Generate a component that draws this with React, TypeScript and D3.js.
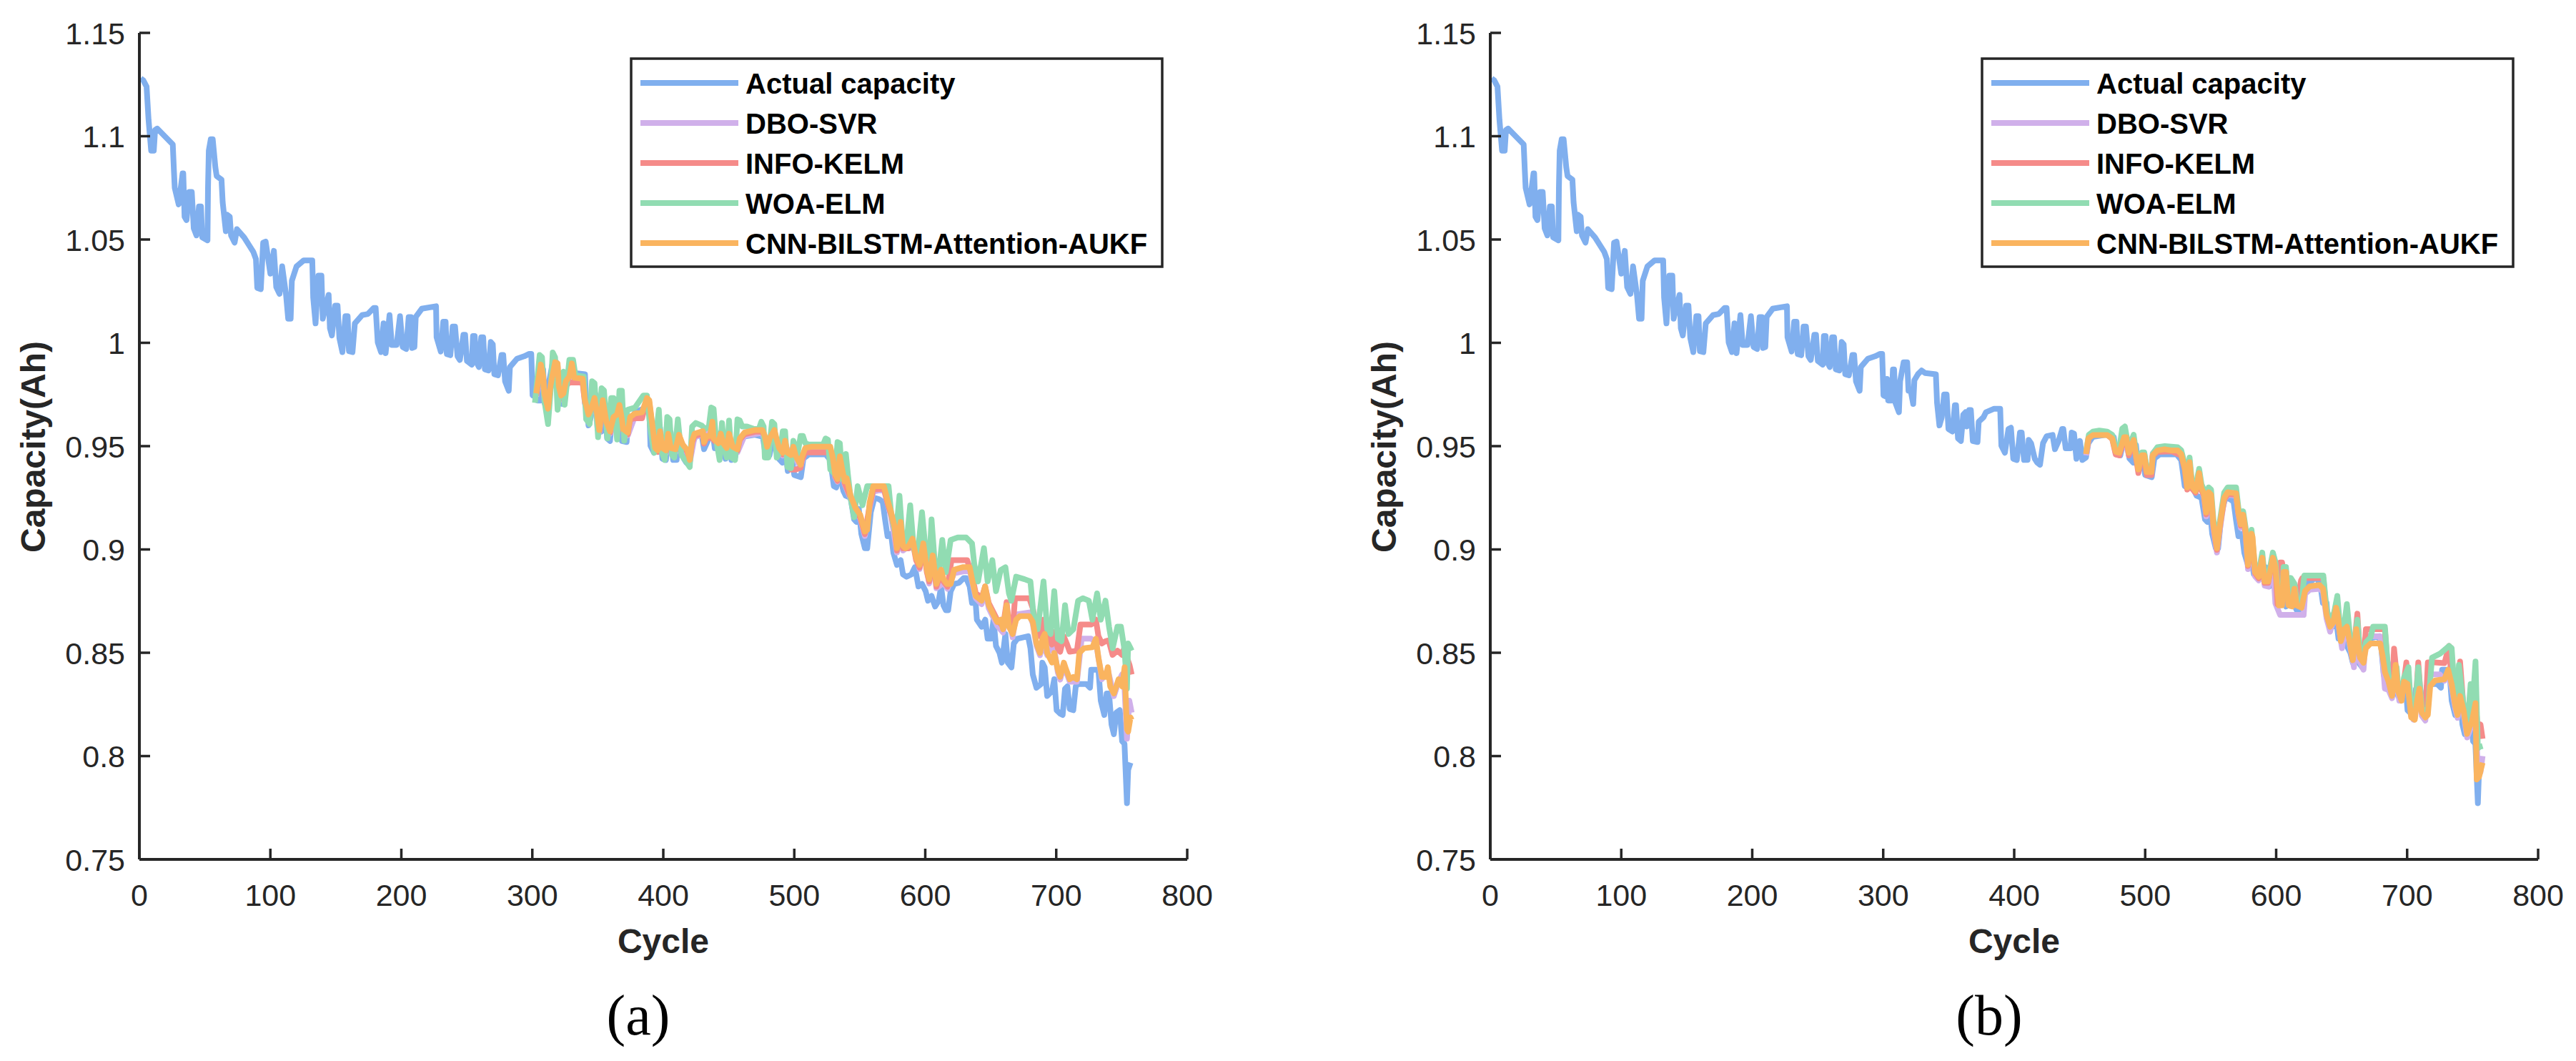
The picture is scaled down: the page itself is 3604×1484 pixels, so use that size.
import React from 'react'
import * as d3 from 'd3'

type Pt = [number, number]

// legend / series info
const seriesNames = ['Actual capacity', 'DBO-SVR', 'INFO-KELM', 'WOA-ELM', 'CNN-BILSTM-Attention-AUKF']
const seriesColors = ['#80AFEE', '#D0B0EA', '#F58B89', '#91DCB2', '#FAB45F']

const xTicks = [0, 100, 200, 300, 400, 500, 600, 700, 800]
const yTicks = [0.75, 0.8, 0.85, 0.9, 0.95, 1, 1.05, 1.1, 1.15]
const yTickLabels = ['0.75', '0.8', '0.85', '0.9', '0.95', '1', '1.05', '1.1', '1.15']

// measured capacity (cycle, Ah)
const actualCapacity: Pt[] = [
  [1,1.128],[3,1.127],[5.5,1.124],[7,1.108],[9,1.093],[11,1.093],[12,1.103],[13.6,1.1037],[25.5,1.096],[26.4,1.083],[27,1.075],[30,1.067],[33,1.082],[33.5,1.082],[34.5,1.061],[36,1.0594],[38,1.073],[40,1.073],[41.5,1.0554],[43.6,1.052],[45.5,1.066],[47,1.066],[48,1.051],[52,1.0496],[52.4,1.075],[53,1.093],[54.5,1.0985],[56,1.0985],[58,1.085],[59,1.0807],[62.7,1.079],[63.6,1.068],[66,1.054],[67,1.062],[69,1.061],[70,1.052],[72.7,1.0485],[74.5,1.055],[80,1.051],[87,1.044],[89,1.0405],[90,1.0266],[92.7,1.026],[94.5,1.0485],[96.4,1.049],[100,1.0335],[102.7,1.0445],[104.5,1.027],[107,1.0237],[109,1.037],[112,1.0232],[113.6,1.0117],[115.5,1.0117],[116.4,1.03],[120,1.037],[125.5,1.0399],[132,1.0399],[132.7,1.022],[134.5,1.0094],[136.7,1.0325],[139,1.0325],[140,1.0117],[142.7,1.0186],[144.5,1.0232],[145.5,1.007],[147,1.0036],[149.5,1.018],[151.3,1.018],[152.7,1.0024],[155,0.9955],[157.3,1.0129],[159,1.0129],[160,0.996],[162.7,0.9955],[164.5,1.0094],[170,1.0134],[174.5,1.014],[179,1.0169],[180.4,1.0169],[182,1.0002],[184.5,0.9955],[186.4,1.0094],[188,0.995],[191,1.0134],[192.7,0.999],[196.4,0.999],[199,1.0129],
  [201,0.998],[203.7,0.997],[205.6,1.0125],[207.4,1.0125],[208.3,0.9975],[210,0.998],[211,1.0125],[215.6,1.0165],[226.5,1.0177],[226.9,1.0027],[230.1,0.9958],[232,1.0102],[233.8,1.0102],[234.7,0.9946],[237.4,0.994],[239.2,1.0079],[241,1.0079],[242.9,0.9935],[244.7,0.9917],[247.4,1.0039],[248.7,1.0039],[250.1,0.9912],[253.8,0.9894],[254.7,1.0033],[256,1.0033],[257.4,0.9906],[259.2,0.9883],[261,1.0027],[262.5,1.0027],[263.8,0.9871],[266.5,0.9866],[268.3,1.0004],[269.8,0.9993],[271,0.9848],[273.8,0.9843],[276.5,0.9941],[277.8,0.9941],[279.2,0.9814],[282,0.9768],[282.9,0.9883],[288.3,0.9923],[293.8,0.9935],[297.4,0.9946],[299.2,0.9946],[300.2,0.9745],[302,0.974],[302.9,0.9825],[303.8,0.9721],[306.5,0.9721],[307.4,0.9871],[308.3,0.9871],[309.3,0.971],[312,0.9664],[312.9,0.9814],[315.6,0.9906],[318.3,0.9906],[319.3,0.9768],[321,0.9768],[322.9,0.9704],[323.8,0.9819],[326.5,0.9848],[329.3,0.9866],[332,0.9854],[340.2,0.9848],[341.1,0.971],[342.9,0.96],[344.7,0.964],[346.5,0.975],[348.4,0.975],[349.8,0.9583],[352.9,0.9571],[354.7,0.9698],[355.6,0.9698],[357.1,0.9537],[359.3,0.9525],[361.1,0.9652],[362.9,0.9664],[363.8,0.9595],[365.6,0.9675],[366.9,0.9675],[368.4,0.9525],[372,0.952],[372.9,0.9618],[376.6,0.964],[378.4,0.9664],[384.7,0.9681],[389.3,0.9681],[390.2,0.9502],[392.9,0.9468],[395.6,0.9583],[397.5,0.9589],[399.3,0.9439],[402,0.9433],[404.4,0.9566],[405.7,0.9566],[407.5,0.9433],[410.2,0.9433],[411.1,0.953],[412.9,0.9514],[415.7,0.9439],[417.5,0.9421],[419.7,0.941],[422,0.9514],[424.8,0.9548],[429.3,0.9554],[431.1,0.9485],[433.9,0.9525],[436.6,0.9583],[437.5,0.9583],[439.3,0.949],[443,0.949],[443.9,0.9566],[445.7,0.956],[447.5,0.9439],[450.2,0.9525],[452,0.9433],[454.8,0.9445],[456.6,0.9514],
  [460,0.9545],[470,0.9555],[476,0.9545],[478,0.946],[481,0.9455],[484,0.954],[486,0.953],[488,0.944],[491,0.942],[493,0.9505],[495,0.938],[498,0.945],[500,0.936],[505,0.935],[507,0.944],[511,0.946],[524,0.946],[527.5,0.9433],[530.2,0.9306],[532,0.93],[534,0.938],[537.5,0.9283],[539.3,0.926],[543,0.925],[545.7,0.9145],[547.5,0.9133],[549.3,0.9196],[551.2,0.9075],[553.9,0.9006],[555.7,0.9006],[558.4,0.918],[561.2,0.925],[564.8,0.9243],[567.5,0.9231],[569.3,0.9145],[571.2,0.9064],[573.9,0.9075],[575.7,0.8983],[578.4,0.8925],[581.2,0.8948],[583,0.8879],[585.7,0.8868],[589.4,0.8879],[592.1,0.8914],[594.8,0.8821],[597.5,0.8833],[600.3,0.8798],[602.1,0.8752],[604.8,0.8775],[607.5,0.8724],[610.3,0.8752],[612.1,0.8821],[613.9,0.8729],[615.7,0.8706],[617.5,0.8706],[619.4,0.8798],[622.1,0.8833],[625.7,0.8839],[629.4,0.8862],[631.2,0.8862],[633.9,0.8821],[635.7,0.8741],[638.5,0.8741],[639.4,0.866],[643,0.8626],[645.8,0.866],[647.6,0.8568],[650.3,0.8568],[652.1,0.866],[654,0.8533],[656.7,0.8499],[658.5,0.8452],[661.2,0.8591],[663,0.8452],[665.8,0.8429],[667.6,0.8545],[670.3,0.8568],[678.5,0.858],[680.3,0.8522],[682.1,0.8395],[684.9,0.8331],[688.5,0.8349],[689.4,0.8452],[691.2,0.8429],[693.1,0.8291],[696.7,0.8314],[698.5,0.8372],[700.3,0.8222],[703,0.8205],[704.9,0.8199],[706.7,0.8326],[708.5,0.8337],[710.3,0.8228],[713,0.8222],[714.9,0.8337],[716.7,0.8349],[723,0.8349],[725.8,0.8331],[726.7,0.8418],[732.2,0.8418],[734,0.8268],[736.7,0.8199],[738.5,0.8303],[740.3,0.8303],[742.2,0.8153],[744,0.8106],[745.8,0.821],[748.5,0.8222],[750.3,0.8072],[752.1,0.806],[754,0.7772],[754.9,0.7933],[756.7,0.7968]
]

// panel (a) predictions
const aCNN: Pt[] = [
  [303,0.9756],[306.5,0.9895],[308.3,0.9837],[309.2,0.9756],[312,0.9681],[313.8,0.979],[317.4,0.9906],[319.3,0.99],[320.2,0.979],[322,0.9745],[323.8,0.9756],[325.6,0.9814],[328.3,0.9837],[330.2,0.99],[332,0.9831],[338.4,0.9826],[340.2,0.9722],[342.9,0.9653],[345.6,0.9693],[347.5,0.9733],[349.3,0.9664],[351.1,0.9578],[353.8,0.9722],[356.5,0.9618],[359.3,0.9572],[362,0.9641],[364.7,0.9653],[366.5,0.9699],[368.4,0.963],[369.3,0.9583],[372.9,0.9566],[374.7,0.9641],[378.4,0.9658],[383.8,0.9664],[387.5,0.9733],[389.3,0.9722],[391.1,0.963],[393.8,0.9491],[395.7,0.948],[397.5,0.9572],[399.3,0.9491],[402,0.948],[403.8,0.956],[405.7,0.9491],[409.3,0.9485],[412,0.9555],[414.8,0.9508],[418.4,0.948],[420.2,0.9433],[422,0.9526],[423.9,0.956],[430.2,0.9572],[431.1,0.952],[433,0.9549],[435.7,0.9549],[437.5,0.9618],[438.4,0.9537],[442,0.9514],[443.9,0.956],[445.7,0.9514],[448.4,0.9491],[450.2,0.956],[453,0.9497],[456.6,0.9485],[458.4,0.9537],[462,0.9566],[470.2,0.9578],[475.7,0.9578],[477.5,0.9549],[479.3,0.9497],[481.2,0.9537],[484.8,0.9578],[486.6,0.9532],[488.4,0.9491],[491.2,0.9468],[493,0.9526],[494.8,0.9468],[497.5,0.9457],[499.3,0.9497],[501.2,0.9451],[504.8,0.941],[505.7,0.9445],[508.4,0.9491],[513,0.9497],[527.5,0.9497],[529.4,0.9445],[531.2,0.9364],[533,0.9341],[534.8,0.9451],[536.6,0.9387],[538.5,0.933],[540,0.9345],[543,0.926],[546.6,0.9202],[550.3,0.9168],[553.9,0.9087],[555.7,0.9095],[557.5,0.9225],[560.3,0.9306],[568.4,0.9306],[571.2,0.9237],[573.9,0.918],[576.6,0.911],[578.4,0.9006],[581.2,0.9133],[583,0.9018],[584.8,0.9006],[587.5,0.9018],[590.3,0.9052],[593,0.896],[595.7,0.8925],[598.5,0.9029],[601.2,0.8902],[603,0.8856],[605.7,0.8971],[608.5,0.8833],[612.1,0.8902],[613.9,0.8856],[616.6,0.8833],[619.4,0.8833],[622.1,0.8902],[628.5,0.8914],[633.9,0.8914],[635.7,0.8856],[638.5,0.8775],[643,0.8752],[645.7,0.8821],[648.5,0.873],[652.1,0.8683],[654.9,0.8649],[657.6,0.866],[659.4,0.8614],[662.1,0.873],[663.9,0.8626],[666.7,0.8591],[669.4,0.866],[672.1,0.8677],[679.4,0.8677],[682.1,0.8649],[684.9,0.8545],[687.6,0.8499],[689.4,0.8568],[691.2,0.8591],[693.1,0.8499],[696.7,0.8453],[698.5,0.8499],[701.2,0.8418],[703,0.8383],[705.8,0.8452],[707.6,0.8418],[710.3,0.8372],[713,0.8383],[715.8,0.8372],[717.6,0.8499],[721.2,0.8522],[727.6,0.8527],[730.3,0.8568],[732.2,0.8476],[734.9,0.8383],[737.6,0.8383],[739.4,0.843],[741.2,0.8337],[744,0.8303],[745.8,0.8337],[747.6,0.8372],[750.3,0.8337],[752.2,0.843],[754,0.813],[754.9,0.8118],[756.7,0.8187],[757.6,0.8175]
]
const aWOA: Pt[] = [
  [302,0.971],[305.6,0.9941],[307.4,0.993],[309.2,0.9722],[312,0.9607],[313.8,0.9756],[315.6,0.9953],[317.4,0.993],[319.3,0.9676],[322,0.9849],[323.8,0.986],[324.7,0.97],[328.3,0.9918],[331.1,0.9918],[332.9,0.9843],[339.3,0.9837],[341.1,0.963],[343.8,0.9607],[345.6,0.9814],[347.5,0.9805],[350.2,0.9543],[352.9,0.978],[354.7,0.977],[357.4,0.9537],[360.2,0.9733],[362,0.9733],[364.7,0.9532],[366.5,0.9768],[368.4,0.9768],[370.2,0.9526],[372,0.9653],[372.9,0.9676],[378.4,0.9687],[384.7,0.9745],[387.5,0.9745],[390.2,0.9583],[393,0.9468],[396.6,0.9676],[398.4,0.948],[401.1,0.9433],[403,0.9641],[404.8,0.963],[406.6,0.9457],[408.4,0.9445],[411.1,0.963],[413.8,0.9457],[416.6,0.9433],[420.2,0.9399],[422,0.9595],[424.8,0.9612],[429.3,0.96],[432,0.9583],[434.8,0.9595],[436.6,0.9687],[438.4,0.9681],[440.2,0.9537],[443,0.9433],[444.8,0.9612],[446.6,0.9491],[448.4,0.9445],[450.2,0.9624],[452,0.9445],[454.8,0.9433],[456.6,0.963],[458.4,0.9624],[460.2,0.9595],[463.9,0.9595],[469.3,0.9583],[473,0.9583],[474.8,0.9618],[476.6,0.9595],[477.5,0.9445],[480.2,0.9445],[483,0.9618],[484.8,0.9607],[486.6,0.9445],[489.3,0.9474],[491.2,0.9572],[493,0.9572],[494.8,0.9399],[497.5,0.9393],[499.3,0.9526],[501.2,0.9491],[502.1,0.9445],[504.8,0.9549],[506.6,0.9549],[508.4,0.9514],[511.2,0.9508],[522.1,0.9508],[523.9,0.9537],[525.7,0.9531],[527.5,0.9387],[531.2,0.9364],[533,0.952],[534.8,0.9514],[536.6,0.9341],[539.4,0.9462],[541,0.936],[543,0.925],[545.7,0.9156],[548.4,0.9306],[552.1,0.9214],[555.7,0.9306],[572,0.9306],[573.9,0.918],[577.5,0.9064],[580.3,0.926],[583,0.9018],[585.7,0.903],[588.5,0.9214],[591.2,0.9006],[593.9,0.896],[597.5,0.918],[600.3,0.8994],[603,0.8925],[604.8,0.9145],[607.5,0.8914],[610.3,0.889],[613,0.9046],[615.7,0.889],[619.4,0.9046],[624.8,0.9058],[631.2,0.9058],[635.7,0.9029],[637.5,0.8925],[640.3,0.8845],[644.8,0.9006],[647.6,0.8845],[651.2,0.8948],[654,0.8798],[657.6,0.89],[661.2,0.8914],[663.9,0.8787],[665.7,0.8752],[669.4,0.8868],[675.8,0.8856],[680.3,0.8845],[683,0.866],[685.8,0.8614],[690.3,0.8845],[693.1,0.8614],[695.8,0.8591],[698.5,0.8798],[701.2,0.8568],[704,0.8556],[706.7,0.873],[709.4,0.8591],[713.1,0.8614],[716.7,0.8752],[720.3,0.8764],[724.9,0.8752],[727.6,0.866],[731.2,0.8787],[734,0.866],[737.6,0.8752],[740.3,0.8626],[743.1,0.8522],[746.7,0.8626],[749.4,0.8626],[752.2,0.851],[754,0.8326],[754.9,0.8545],[756.7,0.8522],[757.6,0.851]
]
const aINFO: Pt[] = [
  [303,0.9745],[306.5,0.988],[308.3,0.983],[309.2,0.9745],[312,0.967],[313.8,0.978],[317.4,0.9895],[319.3,0.989],[320.2,0.978],[322,0.973],[323.8,0.974],[326,0.9795],[328.3,0.9808],[338.4,0.9808],[340.2,0.971],[342.9,0.9645],[345.6,0.968],[347.5,0.9725],[349.3,0.9655],[351.1,0.957],[353.8,0.971],[356.5,0.961],[359.3,0.9565],[362,0.9635],[364.7,0.9645],[366.5,0.969],[368.4,0.962],[369.3,0.9575],[372.9,0.9558],[374.7,0.963],[378.4,0.9635],[383.8,0.9635],[387.5,0.9725],[389.3,0.9712],[391.1,0.962],[393.8,0.9482],[395.7,0.9472],[397.5,0.9565],[399.3,0.9482],[402,0.9472],[403.8,0.955],[405.7,0.9482],[409.3,0.9477],[412,0.9545],[414.8,0.95],[418.4,0.9472],[420.2,0.9425],[422,0.9518],[423.9,0.955],[430.2,0.956],[431.1,0.9512],[433,0.954],[435.7,0.954],[437.5,0.961],[438.4,0.953],[442,0.9505],[443.9,0.955],[445.7,0.9505],[448.4,0.9482],[450.2,0.955],[453,0.9488],[456.6,0.9478],[458.4,0.953],[462,0.9558],[470.2,0.957],[475.7,0.957],[477.5,0.954],[479.3,0.949],[481.2,0.953],[484.8,0.957],[486.6,0.9525],[488.4,0.9482],[491.2,0.946],[493,0.9518],[494.8,0.9445],[497.5,0.9387],[501.2,0.9387],[504.8,0.9395],[505.7,0.943],[508.4,0.947],[527.5,0.947],[529.4,0.9435],[531.2,0.9355],[533,0.9332],[534.8,0.9442],[536.6,0.9378],[538.5,0.932],[543,0.925],[546.6,0.919],[550.3,0.9155],[553.9,0.9075],[557.5,0.921],[560.3,0.929],[568.4,0.9295],[571.2,0.9225],[573.9,0.9168],[576.6,0.9095],[578.4,0.8995],[581.2,0.912],[583,0.9005],[587.5,0.9005],[590.3,0.904],[593,0.8948],[595.7,0.8912],[598.5,0.9018],[601.2,0.889],[603,0.8845],[605.7,0.896],[608.5,0.882],[612.1,0.889],[613.9,0.8845],[617,0.882],[620,0.8948],[632,0.8948],[635.7,0.8875],[638.5,0.879],[643,0.8764],[645.7,0.8821],[648.5,0.874],[652.1,0.8695],[654.9,0.866],[659.4,0.8628],[662.1,0.8745],[663.9,0.864],[666.7,0.8605],[668.5,0.8764],[679.4,0.8764],[682.1,0.8715],[684.9,0.8625],[687.6,0.858],[690,0.866],[693.1,0.858],[696.7,0.854],[698.5,0.86],[701.2,0.852],[703,0.8505],[705.8,0.8579],[708,0.8545],[710.3,0.8505],[715.8,0.851],[718.5,0.8637],[726.7,0.8637],[730.3,0.866],[732.2,0.858],[734.9,0.8545],[737.6,0.8556],[740,0.856],[743,0.849],[746.7,0.851],[750.3,0.849],[752.2,0.853],[754,0.8476],[756,0.844],[757.6,0.8395]
]
const aDBO: Pt[] = [
  [303,0.974],[306.5,0.9875],[309.2,0.974],[312,0.9665],[313.8,0.9775],[317.4,0.989],[320.2,0.9775],[322,0.9725],[326,0.979],[330,0.984],[338.4,0.9815],[340.2,0.9705],[342.9,0.9635],[347.5,0.972],[351.1,0.9565],[353.8,0.9705],[359.3,0.956],[364.7,0.964],[368.4,0.9615],[372.9,0.9552],[378.4,0.9645],[383.8,0.965],[387.5,0.972],[391.1,0.9615],[393.8,0.9475],[397.5,0.956],[402,0.9465],[403.8,0.9545],[409.3,0.947],[412,0.954],[418.4,0.9465],[420.2,0.942],[423.9,0.9545],[430.2,0.9555],[437.5,0.9605],[442,0.95],[443.9,0.9545],[448.4,0.9475],[450.2,0.9545],[456.6,0.947],[462,0.955],[475.7,0.9565],[479.3,0.9485],[484.8,0.9565],[488.4,0.9475],[491.2,0.9455],[493,0.951],[497.5,0.944],[501.2,0.9435],[504.8,0.94],[508.4,0.948],[527.5,0.948],[531.2,0.935],[533,0.9328],[534.8,0.9438],[538.5,0.9315],[543,0.9245],[546.6,0.9185],[550.3,0.915],[553.9,0.9065],[557.5,0.92],[560.3,0.928],[568.4,0.929],[573.9,0.916],[578.4,0.8985],[581.2,0.911],[583,0.8995],[590.3,0.903],[595.7,0.8905],[598.5,0.901],[603,0.8835],[605.7,0.895],[608.5,0.8812],[613.9,0.8838],[617,0.881],[622.1,0.8885],[633.9,0.89],[638.5,0.8765],[643,0.8735],[645.7,0.8805],[648.5,0.8715],[654.9,0.8632],[659.4,0.8598],[662.1,0.871],[666.7,0.8575],[669.4,0.8685],[679.4,0.8695],[682.1,0.864],[684.9,0.8535],[687.6,0.8488],[689.4,0.8555],[693.1,0.8488],[697.6,0.8556],[701.2,0.8405],[703,0.837],[705.8,0.844],[710.3,0.836],[715.8,0.836],[719.4,0.8568],[726.7,0.8568],[730.3,0.855],[734.9,0.8372],[739.4,0.8418],[744,0.829],[747.6,0.836],[750.3,0.8395],[752.2,0.832],[754,0.8084],[755.8,0.8268],[757.6,0.821]
]

// panel (b) predictions
const bCNN: Pt[] = [
  [454.8,0.9462],[456.6,0.9537],[460.2,0.9554],[471.1,0.9554],[474.8,0.9537],[477.5,0.9473],[480.2,0.9468],[483.9,0.9543],[485.5,0.9543],[487.5,0.9468],[491.2,0.953],[493,0.9456],[494.8,0.9387],[497.5,0.9456],[499.3,0.9456],[501.2,0.9375],[504.8,0.9375],[505.7,0.9456],[509.3,0.9479],[514.8,0.9485],[520.3,0.9479],[524.8,0.9479],[527.5,0.9462],[530.3,0.9393],[532.1,0.93],[533.9,0.9422],[535.7,0.9306],[538.5,0.9283],[541.2,0.937],[543,0.9295],[544.8,0.9272],[546.6,0.9179],[548.5,0.9277],[550.3,0.9265],[552.1,0.9122],[554.8,0.9006],[556.6,0.9099],[558.5,0.9179],[560.3,0.925],[563,0.9277],[569.4,0.9272],[571.2,0.9179],[573,0.9122],[574.8,0.9168],[576.7,0.9087],[578.5,0.8926],[581.2,0.9076],[582,0.906],[583.9,0.8891],[586.7,0.8868],[589.4,0.896],[591.2,0.8845],[593.9,0.8845],[597.5,0.896],[599.4,0.8914],[602.1,0.8729],[604.5,0.8729],[605.7,0.8891],[607.5,0.8891],[609.4,0.8729],[612.1,0.8724],[613.9,0.881],[615.7,0.8729],[619.4,0.8718],[622.1,0.8799],[625.7,0.8822],[633,0.8828],[635.8,0.881],[638.5,0.8683],[641.2,0.8626],[643.5,0.8645],[645.8,0.8718],[647,0.8683],[649.4,0.8556],[652.1,0.8614],[654,0.8626],[656.7,0.8533],[658.5,0.8464],[661.2,0.8614],[664,0.8476],[666.7,0.8452],[668.5,0.8522],[672.1,0.8545],[679.4,0.8545],[681.2,0.8487],[683.1,0.8406],[685.8,0.836],[688.5,0.8291],[691.2,0.8441],[693.1,0.8314],[695.8,0.8268],[697.6,0.836],[700.3,0.8349],[703.1,0.8187],[705.8,0.8176],[707.6,0.8268],[709.4,0.8326],[711.2,0.821],[713.9,0.8187],[715.8,0.8199],[717.6,0.8337],[721.3,0.8366],[728.5,0.8372],[731.3,0.8418],[734,0.8349],[736.7,0.8245],[738.5,0.8199],[740.4,0.8291],[743.1,0.8222],[745.8,0.8107],[747.6,0.8141],[749.4,0.8164],[752.2,0.8256],[753.1,0.7887],[754.9,0.7899],[756.7,0.7945],[757.6,0.7968]
]
const bWOA: Pt[] = [
  [455,0.948],[457,0.9555],[460,0.957],[465,0.9575],[471,0.957],[474.8,0.9555],[477.5,0.949],[480.2,0.9485],[482.5,0.9585],[484.5,0.9595],[487.5,0.949],[491.2,0.9555],[493,0.947],[494.8,0.9405],[497.5,0.947],[499.3,0.947],[501.2,0.9395],[504.8,0.9395],[506,0.9465],[509.3,0.9495],[515,0.95],[524.8,0.9495],[527.5,0.948],[530.3,0.941],[532.1,0.9325],[533.9,0.9445],[535.7,0.9325],[538.5,0.9305],[541.2,0.939],[543,0.9315],[544.8,0.929],[546.6,0.92],[548.5,0.93],[550.3,0.929],[552.1,0.9145],[554.8,0.9025],[556.6,0.912],[558.5,0.92],[560.3,0.9275],[563,0.93],[569.4,0.93],[571.2,0.92],[573,0.914],[574.8,0.9185],[576.7,0.9105],[578.5,0.8945],[581.2,0.9095],[583.9,0.891],[586.7,0.889],[589.4,0.8985],[591.2,0.887],[593.9,0.8865],[597.5,0.8985],[599.4,0.894],[602.1,0.875],[604.5,0.8755],[605.7,0.8915],[607.5,0.8915],[609.4,0.875],[611.2,0.8862],[613.9,0.8835],[615.7,0.8755],[619.4,0.8745],[621.5,0.8874],[636,0.8874],[638.5,0.871],[641.2,0.8655],[643.5,0.867],[646.7,0.8775],[649.4,0.858],[652.1,0.864],[654,0.8735],[656.7,0.856],[658.5,0.849],[662,0.866],[664,0.8505],[666.7,0.848],[668.5,0.855],[672.1,0.8575],[674,0.8626],[683,0.8626],[685.8,0.839],[688.5,0.8315],[692,0.843],[693.1,0.834],[695.8,0.8295],[697.6,0.838],[701,0.843],[703.1,0.8215],[705.8,0.82],[708.5,0.843],[711.2,0.8235],[713.9,0.821],[715.8,0.8225],[719,0.8476],[725,0.8495],[732,0.8533],[734,0.8522],[736.7,0.827],[738.5,0.8225],[739.5,0.8441],[743.1,0.8245],[745.8,0.813],[748.5,0.8349],[749.4,0.8185],[752.2,0.8458],[754,0.8037],[755.5,0.8045],[757.6,0.8049]
]
const bINFO: Pt[] = [
  [455,0.9465],[457,0.954],[460,0.9555],[471,0.9555],[474.8,0.9535],[477.5,0.946],[480.2,0.9455],[483.9,0.9535],[485.5,0.954],[487.5,0.9455],[491.2,0.9525],[493,0.9445],[494.8,0.937],[497.5,0.9445],[499.3,0.9445],[501.2,0.936],[504.8,0.936],[505.7,0.945],[509.3,0.9472],[520.3,0.9475],[527.5,0.9455],[530.3,0.9385],[532.1,0.929],[533.9,0.9418],[535.7,0.9295],[538.5,0.9275],[541.2,0.9362],[543,0.9285],[544.8,0.9262],[546.6,0.917],[548.5,0.9265],[550.3,0.9255],[552.1,0.9112],[554.8,0.8998],[556.6,0.9092],[558.5,0.917],[560.3,0.924],[563,0.9268],[569.4,0.9265],[571.2,0.917],[573,0.9115],[574.8,0.916],[576.7,0.9078],[578.5,0.892],[581.2,0.907],[583.9,0.8885],[586.7,0.886],[589.4,0.8955],[591.2,0.8838],[593.9,0.8838],[597.5,0.8955],[599.4,0.8915],[601,0.8735],[603,0.8937],[604.5,0.8937],[605.7,0.8895],[607.5,0.8895],[609.4,0.8735],[612.1,0.8728],[613.9,0.8815],[615.7,0.8735],[619,0.885],[620,0.8862],[636,0.8862],[638.5,0.869],[641.2,0.8632],[645.8,0.8725],[649.4,0.8562],[652.1,0.862],[654,0.8632],[656.7,0.854],[658.5,0.847],[662,0.8689],[664,0.8482],[666.7,0.8458],[668.5,0.8614],[683,0.8614],[685.8,0.8368],[688.5,0.8298],[690,0.852],[693.1,0.8322],[695.8,0.8275],[699.4,0.8453],[703.1,0.8195],[705.8,0.8183],[708.5,0.8453],[711.2,0.8218],[713.9,0.8195],[715.8,0.8453],[721,0.8453],[728.5,0.845],[732,0.8533],[734,0.8356],[736.7,0.8252],[738.5,0.8206],[740.4,0.8458],[743.1,0.823],[745.8,0.8115],[749.4,0.8172],[752.2,0.8265],[754,0.8125],[756,0.8153],[757.6,0.8084]
]
const bDBO: Pt[] = [
  [455,0.9455],[457,0.9545],[460,0.956],[471,0.956],[474.8,0.9545],[477.5,0.9465],[480.2,0.946],[483.9,0.9535],[487.5,0.946],[491.2,0.9525],[493,0.945],[494.8,0.9385],[497.5,0.9465],[499.3,0.9465],[501.2,0.938],[504.8,0.938],[505.7,0.9465],[509.3,0.949],[520.3,0.9485],[527.5,0.9465],[530.3,0.9395],[532.1,0.9315],[533.9,0.943],[535.7,0.93],[538.5,0.9275],[541.2,0.936],[543,0.929],[544.8,0.9255],[546.6,0.916],[548.5,0.926],[550.3,0.925],[552.1,0.91],[554.8,0.8985],[556.6,0.908],[558.5,0.916],[560.3,0.924],[563,0.9265],[569.4,0.926],[571.2,0.9165],[573,0.9105],[574.8,0.915],[576.7,0.907],[578.5,0.8905],[581.2,0.9055],[583.9,0.887],[586.7,0.885],[589.4,0.894],[591.2,0.8825],[593.9,0.882],[597.5,0.8935],[599.4,0.874],[603,0.8683],[621,0.8683],[622.1,0.8785],[625.7,0.8805],[633,0.881],[635.8,0.8795],[638.5,0.8665],[641.2,0.8602],[645.8,0.8705],[650.3,0.8522],[652.1,0.86],[654,0.861],[656.7,0.852],[659.4,0.843],[661.2,0.86],[664,0.8455],[666.7,0.8418],[668.5,0.858],[679.4,0.858],[681.2,0.8475],[683,0.8326],[685.8,0.832],[688.5,0.828],[691.2,0.8425],[694,0.8268],[697.6,0.8345],[700.3,0.8335],[704.9,0.8176],[707.6,0.825],[709.4,0.831],[711.2,0.8195],[713.9,0.8172],[717.6,0.8395],[725,0.8395],[728.5,0.8365],[731.3,0.8405],[734,0.8335],[736.7,0.823],[738.5,0.8185],[740.4,0.8275],[743.1,0.8205],[745.8,0.809],[749.4,0.815],[752.2,0.824],[754,0.7922],[756,0.7922],[757.6,0.8]
]

const FONT = '"Liberation Sans", Arial, sans-serif'
const AXIS = '#262626'

function Panel({ dx, preds, tag }: { dx: number; preds: Pt[][]; tag: string }) {
  const x = d3.scaleLinear().domain([0, 800]).range([dx + 195, dx + 1661])
  const y = d3.scaleLinear().domain([0.75, 1.15]).range([1202, 46])
  const line = d3.line<Pt>().x(d => x(d[0])).y(d => y(d[1]))
  const all = [actualCapacity, ...preds]
  const x0 = x(0), y0 = y(0.75)
  return (
    <g>
      {all.map((s, i) => (
        <path key={i} d={line(s) || ''} fill="none" stroke={seriesColors[i]} strokeWidth={8} strokeLinejoin="round" strokeLinecap="butt" />
      ))}
      <line x1={x0} x2={x(800)} y1={y0} y2={y0} stroke={AXIS} strokeWidth={4} />
      <line x1={x0} x2={x0} y1={y(1.15)} y2={y0} stroke={AXIS} strokeWidth={4} />
      {xTicks.map(t => (
        <g key={t}>
          <line x1={x(t)} x2={x(t)} y1={y0} y2={y0 - 15} stroke={AXIS} strokeWidth={3.5} />
          <text x={x(t)} y={1267} textAnchor="middle" fontFamily={FONT} fontSize={43} fill={AXIS}>{t}</text>
        </g>
      ))}
      {yTicks.map((t, i) => (
        <g key={t}>
          <line x1={x0} x2={x0 + 15} y1={y(t)} y2={y(t)} stroke={AXIS} strokeWidth={3.5} />
          <text x={x0 - 20} y={y(t) + 15.5} textAnchor="end" fontFamily={FONT} fontSize={43} fill={AXIS}>{yTickLabels[i]}</text>
        </g>
      ))}
      <text x={dx + 928} y={1333} textAnchor="middle" fontFamily={FONT} fontWeight="bold" fontSize={48} fill={AXIS}>Cycle</text>
      <text transform={`translate(${dx + 63},625) rotate(-90)`} textAnchor="middle" fontFamily={FONT} fontWeight="bold" fontSize={48} fill={AXIS}>Capacity(Ah)</text>
      <text x={dx + 893} y={1447} textAnchor="middle" fontFamily='"Liberation Serif", "Times New Roman", serif' fontSize={80} fill="#000">{tag}</text>
      <rect x={dx + 883} y={82} width={743} height={291} fill="#fff" stroke={AXIS} strokeWidth={3.5} />
      {seriesNames.map((n, i) => (
        <g key={n}>
          <line x1={dx + 896} x2={dx + 1033} y1={116 + i * 56} y2={116 + i * 56} stroke={seriesColors[i]} strokeWidth={8} />
          <text x={dx + 1043} y={116 + i * 56 + 15} fontFamily={FONT} fontWeight="bold" fontSize={40} fill="#000">{n}</text>
        </g>
      ))}
    </g>
  )
}

export default function App() {
  return (
    <svg width={3604} height={1484} style={{ position: 'absolute', left: 0, top: 0, background: '#fff' }}>
      <rect width={3604} height={1484} fill="#fff" />
      <Panel dx={0} preds={[aDBO, aINFO, aWOA, aCNN]} tag="(a)" />
      <Panel dx={1890} preds={[bDBO, bINFO, bWOA, bCNN]} tag="(b)" />
    </svg>
  )
}
